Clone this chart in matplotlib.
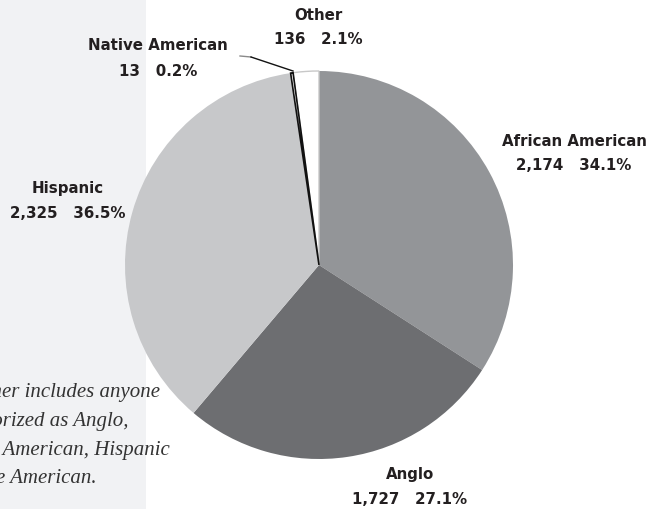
import matplotlib
matplotlib.use("agg")
import matplotlib.pyplot as plt
from matplotlib.patches import Rectangle

# data
groups = ["African American", "Anglo", "Hispanic", "Native American", "Other"]
counts = [2174, 1727, 2325, 13, 136]
shares = [34.1, 27.1, 36.5, 0.2, 2.1]
colors = ["#939598", "#6d6e71", "#c7c8ca", "#ffffff", "#ffffff"]

note_lines = ["Note: Other includes anyone", "not categorized as Anglo,",
              "African American, Hispanic", "or Native American."]

W, H = 656, 510
fig = plt.figure(figsize=(W / 100, H / 100), dpi=100)
ax = fig.add_axes([0, 0, 1, 1])

def py(y):
    # pixel row -> data y
    return H - y

# grey side panel
ax.add_patch(Rectangle((0, 0), 146, H, facecolor="#f1f2f4", edgecolor="none", zorder=0))

wedges, _ = ax.pie(counts, colors=colors, startangle=90, counterclock=False,
                   center=(319, py(266)), radius=194, frame=True,
                   wedgeprops=dict(edgecolor="none", linewidth=0))
for w in wedges:
    w.set_zorder(2)
ax.set_xlim(0, W)
ax.set_ylim(0, H)
ax.set_aspect("equal")
ax.axis("off")
wedges[4].set_edgecolor("#c8c8c8")
wedges[4].set_linewidth(1.0)
wedges[3].set_edgecolor("#111111")
wedges[3].set_linewidth(1.2)
wedges[3].set_zorder(3)

lab_font = dict(family="DejaVu Sans", fontweight="bold", fontsize=10.8, color="#231f20",
                ha="center", va="center", zorder=5)
label_pos = [(574, 141), (410, 475), (68, 188), (158, 46), (318, 15)]
for g, c, s, (x, y) in zip(groups, counts, shares, label_pos):
    ax.text(x, py(y), g, **lab_font)
    ax.text(x, py(y + 25), f"{c:,}   {s}%", **lab_font)

# leader for Native American
ax.plot([240, 251], [py(57), py(58)], color="#8a8a8a", lw=1.0, zorder=4)
ax.plot([251, 293], [py(58), py(72)], color="#111111", lw=1.0, zorder=4)

# note, clipped at the left edge as in the source layout
note_right = [160, 128, 170, 97]
for i, (t, xr) in enumerate(zip(note_lines, note_right)):
    ax.text(xr, py(393 + 28.5 * i), t, family="Liberation Serif", style="italic",
            fontsize=15, color="#333333", ha="right", va="center", zorder=5)

fig.savefig("out.png", dpi=100)
